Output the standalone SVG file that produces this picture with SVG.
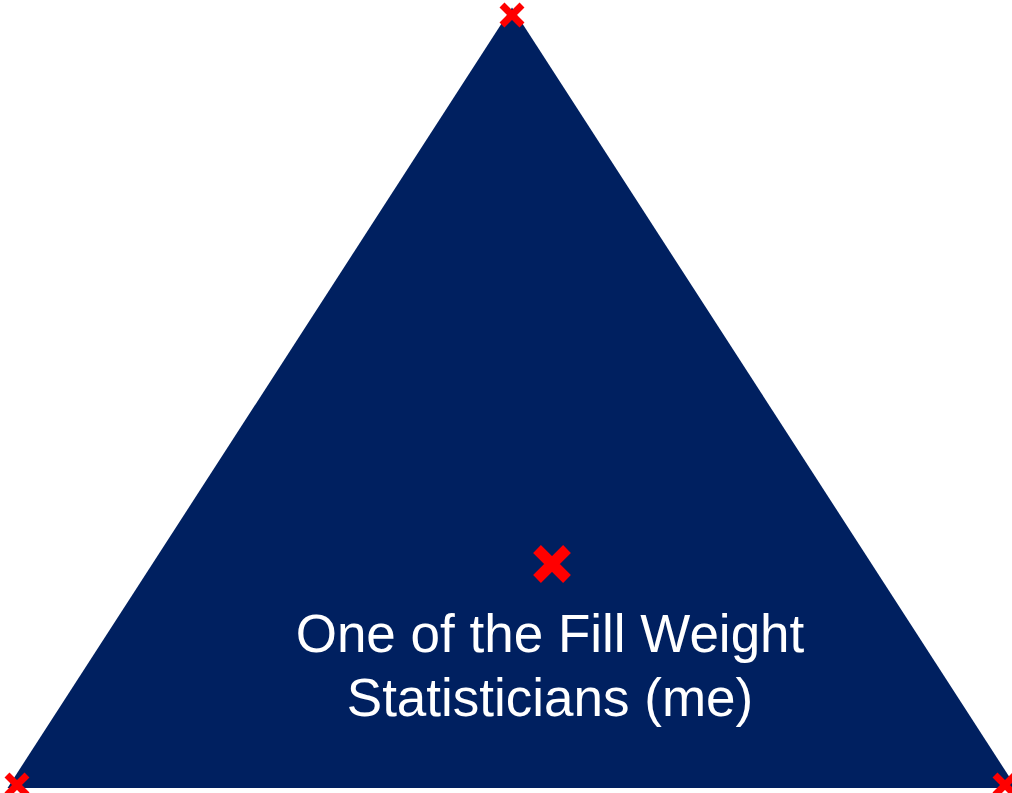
<svg xmlns="http://www.w3.org/2000/svg" width="1012" height="793" viewBox="0 0 1012 793">
  <defs>
    <style>
      .tri { fill: #002060; }
      .mk { stroke: #FF0000; stroke-linecap: butt; fill: none; }
      .lbl { font-family: "Liberation Sans", Arial, sans-serif; font-size: 53px; fill: #FFFFFF; text-anchor: middle; }
    </style>
    <g id="xs"><path class="mk" stroke-width="7" d="M-10,-10 L10,10 M10,-10 L-10,10"/></g>
    <g id="xl"><path class="mk" stroke-width="11" d="M-15,-15 L15,15 M15,-15 L-15,15"/></g>
  </defs>
  <rect width="1012" height="793" fill="#FFFFFF"/>
  <g id="triangle">
    <polygon class="tri" points="512,7.5 1016.5,788 7.5,788"/>
  </g>
  <g id="connectors"></g>
  <g id="markers">
    <use href="#xs" x="512" y="15"/>
    <use href="#xs" x="17" y="785"/>
    <use href="#xs" x="1005" y="785"/>
    <use href="#xl" x="552" y="564"/>
  </g>
  <g id="label">
    <text class="lbl" x="550" y="652">One of the Fill Weight</text>
    <text class="lbl" x="550" y="716">Statisticians (me)</text>
  </g>
</svg>
